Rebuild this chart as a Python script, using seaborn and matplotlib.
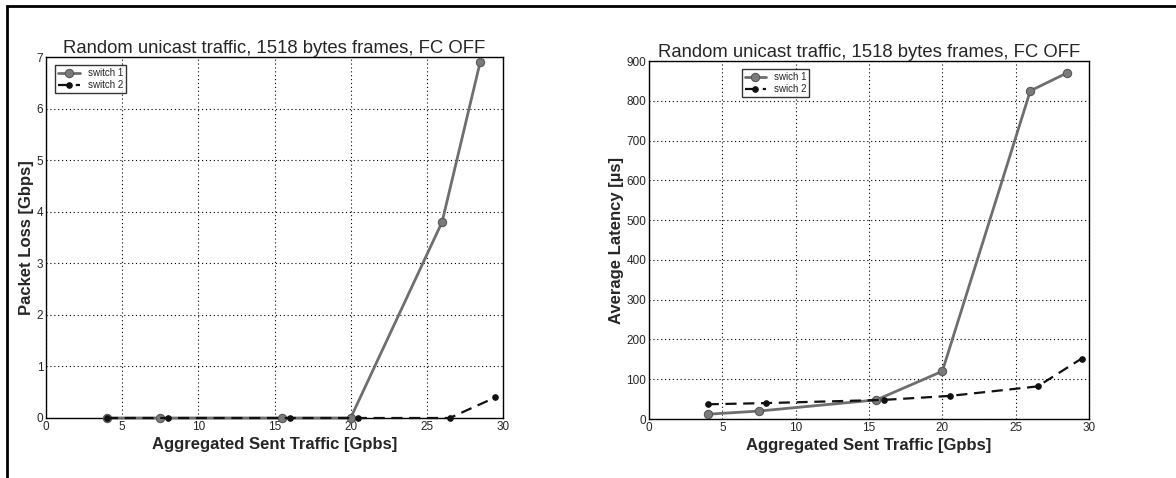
import seaborn as sns
import pandas as pd
import matplotlib.pyplot as plt
from matplotlib.patches import Rectangle

# 数据
x_sw1 = [4, 7.5, 15.5, 20, 26, 28.5]
x_sw2 = [4, 8, 16, 20.5, 26.5, 29.5]
loss_sw1 = [0, 0, 0, 0, 3.8, 6.9]
loss_sw2 = [0, 0, 0, 0, 0, 0.4]
lat_sw1 = [12, 20, 48, 120, 825, 870]
lat_sw2 = [37, 40, 48, 58, 82, 152]
left_labels = ['switch 1', 'switch 2']
right_labels = ['swich 1', 'swich 2']
title = 'Random unicast traffic, 1518 bytes frames, FC OFF'

sns.set_style('white')
plt.rcParams['font.family'] = ['Liberation Sans', 'DejaVu Sans']

fig = plt.figure(figsize=(11.76, 4.78), dpi=100)
# 外框
fig.add_artist(Rectangle((0.006, -0.1), 1.1, 1.087, transform=fig.transFigure,
                         fill=False, edgecolor='black', linewidth=2))

ax1 = fig.add_axes([46 / 1176, 1 - 418 / 478, 457 / 1176, 361 / 478])
ax2 = fig.add_axes([649 / 1176, 1 - 419 / 478, 440 / 1176, 358 / 478])


def draw_panel(ax, y1, y2, labels, ylim, yticks, ylabel):
	df1 = pd.DataFrame({'x': x_sw1, 'y': y1})
	df2 = pd.DataFrame({'x': x_sw2, 'y': y2})
	sns.lineplot(data=df1, x='x', y='y', ax=ax, color='#6e6e6e', linewidth=2,
				 marker='o', markersize=6, markerfacecolor='#7a7a7a',
				 markeredgecolor='#555555', label=labels[0], clip_on=False, zorder=3)
	sns.lineplot(data=df2, x='x', y='y', ax=ax, color='#111111', linewidth=1.6,
				 linestyle=(0, (5, 3)), marker='o', markersize=4,
				 markerfacecolor='#111111', markeredgecolor='#111111', label=labels[1],
				 clip_on=False, zorder=3)
	ax.set_xlim(0, 30)
	ax.set_ylim(*ylim)
	ax.set_xticks(range(0, 31, 5))
	ax.set_yticks(yticks)
	ax.tick_params(axis='both', labelsize=8.5, direction='in', length=3, pad=2)
	ax.grid(True, color='black', linestyle=(0, (1, 2.5)), linewidth=0.8)
	for s in ax.spines.values():
		s.set_color('black')
		s.set_linewidth(1.0)
	ax.set_title(title, fontsize=13.3, pad=3)
	ax.set_xlabel('Aggregated Sent Traffic [Gpbs]', fontsize=12, fontweight='bold', labelpad=3)
	ax.set_ylabel(ylabel, fontsize=12, fontweight='bold', labelpad=2)


draw_panel(ax1, loss_sw1, loss_sw2, left_labels, (0, 7), range(0, 8), 'Packet Loss [Gbps]')
ax1.legend(loc='upper left', fontsize=7, frameon=True, fancybox=False, edgecolor='black',
		   borderpad=0.3, handlelength=2.2, labelspacing=0.2, bbox_to_anchor=(0.01, 0.99))

draw_panel(ax2, lat_sw1, lat_sw2, right_labels, (0, 900), range(0, 901, 100), 'Average Latency [µs]')
ax2.legend(loc='upper left', fontsize=7, frameon=True, fancybox=False, edgecolor='black',
		   borderpad=0.3, handlelength=2.2, labelspacing=0.2, bbox_to_anchor=(0.2, 0.99))

plt.savefig('out.png', dpi=100)
